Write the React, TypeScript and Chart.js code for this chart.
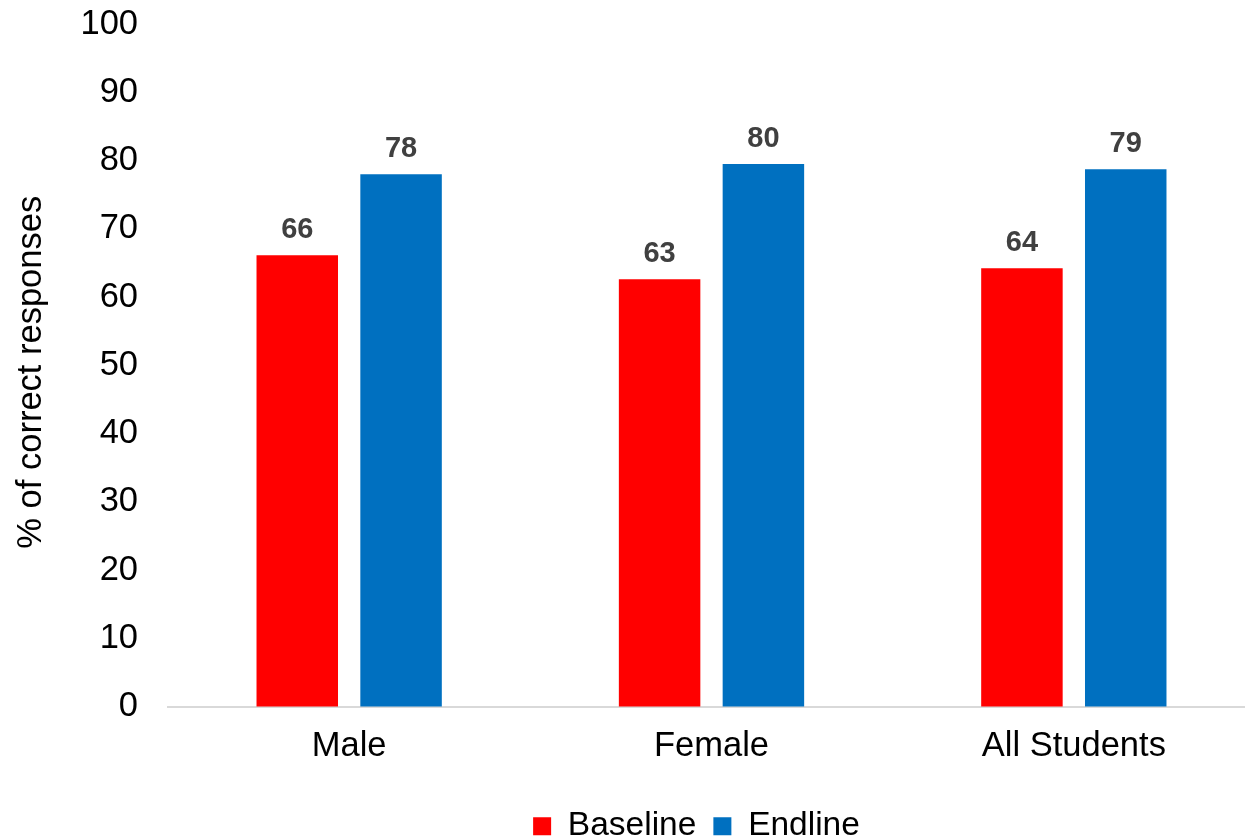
import React, { useEffect, useRef } from "react";
import { Chart, registerables } from "chart.js";

Chart.register(...registerables);

// ---- data ----
const categories = ["Male", "Female", "All Students"];
const seriesNames = ["Baseline", "Endline"];
const baselineValues = [66.1, 62.6, 64.2];
const endlineValues = [78.0, 79.5, 78.7];
const seriesColors = ["#FF0000", "#0070C0"];
const yMin = 0;
const yMax = 100;
const yStep = 10;
const yTitle = "% of correct responses";

const FONT = "'Liberation Sans', Arial, Helvetica, sans-serif";
const FS = 34.5;
const LEGEND_FS = 33.5;

const dataLabelPlugin = {
  id: "dataLabels",
  afterDatasetsDraw(chart: any) {
    const ctx = chart.ctx;
    ctx.save();
    ctx.font = `bold 29px ${FONT}`;
    ctx.fillStyle = "#404040";
    ctx.textAlign = "center";
    ctx.textBaseline = "alphabetic";
    chart.data.datasets.forEach((ds: any, di: number) => {
      const meta = chart.getDatasetMeta(di);
      meta.data.forEach((el: any, i: number) => {
        const v = ds.data[i];
        ctx.fillText(String(Math.round(v)), el.x, el.y - 17);
      });
    });
    ctx.restore();
  },
};

// fine layout adjustments: legend slightly left, y-axis title slightly lower
const layoutTweakPlugin = {
  id: "layoutTweak",
  afterLayout(chart: any) {
    const lg = chart.legend;
    if (lg) {
      lg.left -= 15;
      lg.right -= 15;
    }
    const y = chart.scales.y;
    if (y) {
      y.top += 7;
      y.bottom += 7;
    }
  },
};

export default function App() {
  const canvasRef = useRef<HTMLCanvasElement | null>(null);

  useEffect(() => {
    if (!canvasRef.current) return;
    const chart = new Chart(canvasRef.current, {
      type: "bar",
      data: {
        labels: categories,
        datasets: [
          {
            label: seriesNames[0],
            data: baselineValues,
            backgroundColor: seriesColors[0],
            borderWidth: 0,
            categoryPercentage: 0.573,
            barPercentage: 0.785,
          },
          {
            label: seriesNames[1],
            data: endlineValues,
            backgroundColor: seriesColors[1],
            borderWidth: 0,
            categoryPercentage: 0.573,
            barPercentage: 0.785,
          },
        ],
      },
      options: {
        responsive: false,
        animation: false,
        devicePixelRatio: 1,
        layout: { padding: { top: 24, left: 0, right: 0, bottom: 0 } },
        plugins: {
          legend: {
            position: "bottom",
            fullSize: false,
            labels: {
              font: { family: FONT, size: LEGEND_FS },
              color: "#000000",
              boxWidth: 18,
              boxHeight: 18,
              padding: 17,
            },
          },
          tooltip: { enabled: false },
        },
        scales: {
          x: {
            grid: { display: false, drawTicks: true, tickLength: 19 },
            border: { display: true, color: "#d9d9d9", width: 2 },
            ticks: { font: { family: FONT, size: FS }, color: "#000000", padding: 0 },
            afterFit: (s: any) => {
              s.height = 86;
            },
          },
          y: {
            min: yMin,
            max: yMax,
            ticks: {
              stepSize: yStep,
              font: { family: FONT, size: FS },
              color: "#000000",
              padding: 0,
            },
            grid: { display: false, drawTicks: true, tickLength: 30 },
            border: { display: false },
            title: {
              display: true,
              text: yTitle,
              font: { family: FONT, size: FS, lineHeight: 1.2 },
              color: "#000000",
              padding: { top: 11, bottom: 0 },
            },
            afterFit: (s: any) => {
              s.width = 168;
            },
          },
        },
      } as any,
      plugins: [dataLabelPlugin, layoutTweakPlugin],
    });
    return () => chart.destroy();
  }, []);

  return (
    <div
      style={{
        position: "fixed",
        left: 0,
        top: 0,
        width: 1245,
        height: 840,
        overflow: "hidden",
        background: "#ffffff",
      }}
    >
      <canvas ref={canvasRef} width={1255} height={853} style={{ display: "block" }} />
    </div>
  );
}
